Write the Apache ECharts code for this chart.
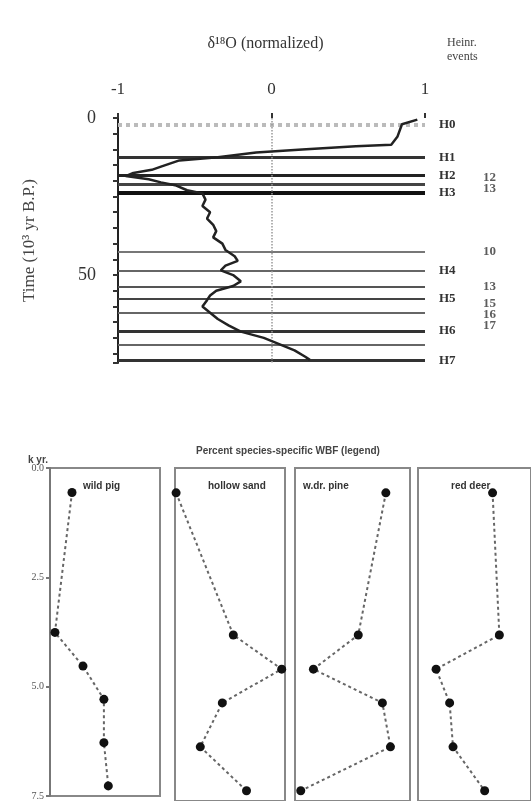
<!DOCTYPE html>
<html>
<head>
<meta charset="utf-8">
<script src="https://cdn.jsdelivr.net/npm/echarts@6/dist/echarts.min.js"></script>
<style>
  html, body { margin: 0; padding: 0; background: #fff; }
  #chart { width: 531px; height: 801px; }
</style>
</head>
<body>
<div id="chart"></div>
<script>
// top panel: d18O curve (value, time in kyr)
const curveTime = [0.5, 2, 6, 8.5, 9, 10, 11, 12.5, 13.5, 15.5, 16.5, 17.5, 18.5, 19.5, 20.5, 21.5, 23, 24, 26, 28, 30, 32, 34, 36, 38, 40, 42, 44, 45.5, 47, 48.5, 50, 52, 53.5, 55, 56.5, 58, 60, 62, 64, 66, 68, 70, 72, 74, 76, 77];
const curveValue = [0.95, 0.85, 0.82, 0.78, 0.55, 0.2, -0.1, -0.35, -0.6, -0.72, -0.78, -0.9, -0.95, -0.8, -0.72, -0.62, -0.55, -0.45, -0.43, -0.45, -0.4, -0.42, -0.38, -0.36, -0.38, -0.32, -0.3, -0.24, -0.22, -0.3, -0.33, -0.25, -0.2, -0.25, -0.36, -0.4, -0.42, -0.45, -0.4, -0.35, -0.28, -0.2, -0.05, 0.05, 0.15, 0.22, 0.25];

// horizontal event lines
const eventTime = [2.2, 12.6, 18.3, 21.1, 23.7, 42.6, 48.6, 53.6, 57.4, 62.1, 67.8, 72.2, 77.2];
const eventWidth = [4, 3, 3, 3, 4, 2, 2, 2, 2, 2, 3, 2, 3];
const eventColor = ['#bbb', '#333', '#222', '#444', '#111', '#777', '#666', '#555', '#444', '#666', '#333', '#666', '#333'];
const eventLabel = ['H0', 'H1', 'H2', '', 'H3', '', 'H4', '', 'H5', '', 'H6', '', 'H7'];
const dOTime = [19, 22.5, 42.6, 53.6, 59, 62.5, 66];
const dOLabel = ['12', '13', '10', '13', '15', '16', '17'];

const timeTicks = [0, 50];
const valueTicks = [-1, 0, 1];

// bottom panels: percent per panel at sample ages (kyr)
const sampleAge = [0.56, 3.76, 4.53, 5.29, 6.28, 7.27];
const panelNames = ['wild pig', 'hollow sand', 'w.dr. pine', 'red deer'];
const panel1 = [20, 4.5, 30, 49, 49, 53];
const panel2 = [1, 53, 97, 43, 23, 65];
const panel3 = [79, 55, 16, 76, 83, 5];
const panel4 = [66, 72, 16, 28, 31, 59];
const panelValues = [panel1, panel2, panel3, panel4];
const ageTicks = ['0.0', '2.5', '5.0', '7.5'];

const serif = 'Liberation Serif';
const chart = echarts.init(document.getElementById('chart'));

const panelLeft = [50, 175, 295, 418];
const panelWidth = [110, 110, 115, 113];

const grids = [{ left: 118, top: 118, width: 307, height: 245 }];
const xAxes = [{
  gridIndex: 0, type: 'value', position: 'top', min: -1, max: 1, interval: 1,
  axisLine: { show: false },
  axisTick: { show: true, length: 5, lineStyle: { color: '#333', width: 2 } },
  axisLabel: { fontFamily: serif, fontSize: 17, color: '#333', margin: 20,
    formatter: v => valueTicks.includes(v) ? String(v) : '' },
  splitLine: { show: false }
}];
const yAxes = [{
  gridIndex: 0, type: 'value', inverse: true, min: 0, max: 78, interval: 5,
  name: 'Time (10³ yr B.P.)', nameLocation: 'middle', nameGap: 80, nameRotate: 90,
  nameTextStyle: { fontFamily: serif, fontSize: 17, color: '#444' },
  axisLine: { show: true, onZero: false, lineStyle: { color: '#222', width: 2 } },
  axisTick: { show: true, length: 5, lineStyle: { color: '#333', width: 2 } },
  axisLabel: { fontFamily: serif, fontSize: 18, color: '#333', margin: 22,
    formatter: v => timeTicks.includes(v) ? String(v) : '' },
  splitLine: { show: false }
}];

const series = [
  {
    type: 'line', xAxisIndex: 0, yAxisIndex: 0,
    data: curveValue.map((v, i) => [v, curveTime[i]]),
    showSymbol: false, smooth: false,
    lineStyle: { color: '#222', width: 2.5 },
    z: 5,
    markLine: {
      silent: true, symbol: 'none',
      data: eventTime.map((t, i) => ({
        yAxis: t,
        lineStyle: { color: eventColor[i], width: eventWidth[i], type: i === 0 ? 'dotted' : 'solid' },
        label: { show: true, position: 'end', distance: 14, formatter: eventLabel[i],
          fontFamily: serif, fontSize: 13, fontWeight: 'bold', color: '#333' }
      })).concat([{
        xAxis: 0,
        lineStyle: { color: '#999', width: 1.5, type: 'dotted' },
        label: { show: false }
      }])
    }
  },
  {
    type: 'scatter', xAxisIndex: 0, yAxisIndex: 0, clip: false,
    symbolSize: 0,
    data: dOTime.map((t, i) => ({ value: [1.42, t], name: dOLabel[i] })),
    label: { show: true, position: 'inside', formatter: p => p.name,
      fontFamily: serif, fontSize: 13, fontWeight: 'bold', color: '#333' }
  }
];

panelValues.forEach((vals, k) => {
  const gi = k + 1;
  grids.push({ left: panelLeft[k], top: 468, width: panelWidth[k], height: 333,
    show: true, borderColor: '#888', borderWidth: 2 });
  xAxes.push({ gridIndex: gi, type: 'value', min: 0, max: 100, show: false });
  yAxes.push({
    gridIndex: gi, type: 'value', inverse: true, min: 0, max: 7.5, interval: 2.5,
    axisLine: { show: k === 0, onZero: false, lineStyle: { color: '#777', width: 2 } },
    axisTick: { show: k === 0, length: 4, lineStyle: { color: '#777', width: 2 } },
    axisLabel: { show: k === 0, fontFamily: serif, fontSize: 10, color: '#555', margin: 6,
      formatter: v => ageTicks[Math.round(v / 2.5)] },
    splitLine: { show: false }
  });
  series.push({
    type: 'line', xAxisIndex: gi, yAxisIndex: gi,
    data: vals.map((v, i) => [v, sampleAge[i]]),
    symbol: 'circle', symbolSize: 9,
    itemStyle: { color: '#111' },
    lineStyle: { color: '#666', width: 2, type: [3, 3] }
  });
});

const graphics = [
  { type: 'text', left: 'center', top: 36,
    style: { text: 'δ¹⁸O (normalized)', font: '16px "Liberation Serif"', fill: '#333' } },
  { type: 'text', left: 447, top: 36,
    style: { text: 'Heinr.\nevents', font: '12px "Liberation Serif"', fill: '#444', lineHeight: 14 } },
  { type: 'text', left: 196, top: 446,
    style: { text: 'Percent species-specific WBF (legend)', font: 'bold 10px "Liberation Sans"', fill: '#444' } },
  { type: 'text', left: 28, top: 455,
    style: { text: 'k yr.', font: 'bold 10px "Liberation Sans"', fill: '#444' } }
];
panelNames.forEach((n, k) => {
  graphics.push({ type: 'text', left: panelLeft[k] + (k === 2 ? 8 : 33), top: 481,
    style: { text: n, font: 'bold 10px "Liberation Sans"', fill: '#333' } });
});

chart.setOption({
  backgroundColor: '#fff',
  animation: false,
  grid: grids,
  xAxis: xAxes,
  yAxis: yAxes,
  series: series,
  graphic: graphics
});
</script>
</body>
</html>
